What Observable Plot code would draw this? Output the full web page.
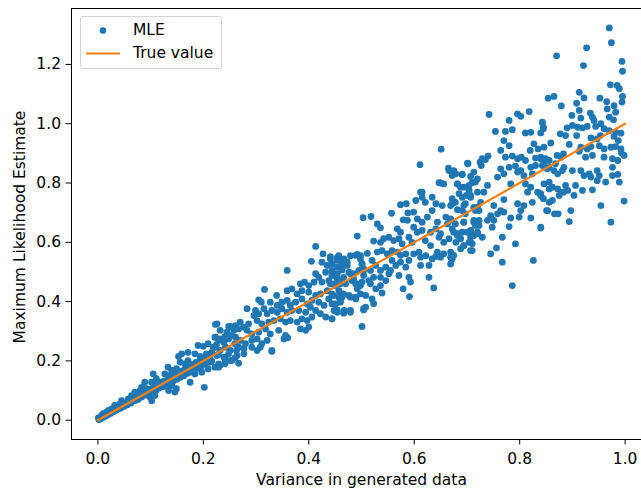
<!DOCTYPE html>
<html><head><meta charset="utf-8">
<script src="https://cdn.jsdelivr.net/npm/d3@7"></script>
<script src="https://cdn.jsdelivr.net/npm/@observablehq/plot@0.6"></script>
<style>
html,body{margin:0;padding:0;background:#fff;overflow:hidden;}
#wrap{position:relative;width:641px;height:490px;overflow:hidden;font-family:"DejaVu Sans",sans-serif;}
#chart svg{max-width:none !important;display:block;}
#legend{position:absolute;left:80px;top:16px;width:142px;height:53px;border:1px solid #d5d5d5;border-radius:3px;background:rgba(255,255,255,0.8);font-size:15.5px;color:#000;box-sizing:border-box;}
#legend .row{position:absolute;left:0;height:20px;line-height:20px;width:140px;}
#legend .lbl{position:absolute;left:52px;white-space:nowrap;}
</style></head>
<body><div id="wrap"><div id="chart"></div>
<div id="legend">
<div class="row" style="top:3px"><svg width="50" height="20" style="position:absolute;left:0"><circle cx="22" cy="10.5" r="3.3" fill="#1f77b4"/></svg><span class="lbl">MLE</span></div>
<div class="row" style="top:26px"><svg width="50" height="20" style="position:absolute;left:0"><line x1="5" x2="39" y1="10.5" y2="10.5" stroke="#ff7f0e" stroke-width="2.2"/></svg><span class="lbl">True value</span></div>
</div></div>
<script>
const xTicks = [0, 0.2, 0.4, 0.6, 0.8, 1.0];
const yTicks = [0, 0.2, 0.4, 0.6, 0.8, 1.0, 1.2];
const trueVariance = [0, 1];
const mlePoints = [
[0.970,1.323],[0.974,1.273],[0.927,1.256],[0.870,1.229],[0.921,1.196],[0.994,1.210],[0.995,1.177],[0.972,1.131],[0.985,1.129],[0.989,1.118],
[0.854,1.086],[0.865,1.092],[0.913,1.106],[0.922,1.087],[0.879,1.060],[0.908,1.069],[0.952,1.086],[0.965,1.074],[0.995,1.092],[0.994,1.073],
[0.966,1.050],[0.979,1.061],[0.982,1.039],[0.913,1.045],[0.934,1.036],[0.938,1.022],[0.899,1.028],[0.970,1.022],[0.978,1.013],[0.916,1.019],
[0.843,1.005],[0.845,0.988],[0.890,0.986],[0.900,0.994],[0.910,0.988],[0.919,0.986],[0.928,0.991],[0.941,1.011],[0.944,0.991],[0.954,1.000],
[0.960,0.983],[0.970,0.977],[0.982,0.971],[0.992,0.968],[0.877,0.966],[0.887,0.960],[0.908,0.960],[0.935,0.952],[0.947,0.949],[0.953,0.960],
[0.979,0.957],[0.987,0.943],[0.859,0.935],[0.894,0.930],[0.916,0.921],[0.928,0.915],[0.935,0.923],[0.951,0.926],[0.960,0.915],[0.973,0.921],
[0.982,0.923],[0.992,0.915],[0.998,0.893],[0.993,0.901],[0.913,0.907],[0.879,0.887],[0.871,0.893],[0.883,0.898],[0.840,0.887],[0.849,0.882],
[0.856,0.876],[0.938,0.893],[0.925,0.887],[0.960,0.887],[0.976,0.882],[0.986,0.876],[0.843,0.859],[0.852,0.848],[0.868,0.865],[0.865,0.842],
[0.872,0.831],[0.884,0.853],[0.881,0.842],[0.900,0.842],[0.916,0.842],[0.922,0.825],[0.932,0.831],[0.935,0.820],[0.947,0.842],[0.951,0.825],
[0.947,0.808],[0.976,0.853],[0.976,0.825],[0.986,0.829],[0.989,0.803],[0.846,0.797],[0.856,0.803],[0.862,0.786],[0.872,0.780],[0.887,0.792],
[0.891,0.775],[0.883,0.769],[0.906,0.792],[0.903,0.758],[0.919,0.775],[0.938,0.777],[0.963,0.803],[0.840,0.764],[0.845,0.747],[0.856,0.735],
[0.862,0.741],[0.875,0.758],[0.879,0.769],[0.851,0.707],[0.866,0.696],[0.873,0.696],[0.897,0.707],[0.894,0.670],[0.954,0.724],[0.998,0.739],
[0.973,0.668],[0.840,0.651],
[0.742,1.031],[0.796,1.033],[0.802,1.025],[0.818,1.041],[0.780,1.011],[0.754,0.974],[0.773,0.974],[0.786,0.980],[0.811,0.969],[0.821,0.971],
[0.843,1.003],[0.845,0.983],[0.840,0.969],[0.770,0.943],[0.780,0.926],[0.827,0.932],[0.835,0.915],[0.764,0.910],[0.820,0.910],[0.846,0.921],
[0.740,0.891],[0.735,0.879],[0.729,0.882],[0.725,0.870],[0.727,0.859],[0.773,0.887],[0.786,0.891],[0.796,0.882],[0.803,0.887],[0.811,0.876],
[0.702,0.865],[0.830,0.884],[0.840,0.882],[0.849,0.876],[0.675,0.842],[0.672,0.825],[0.691,0.829],[0.713,0.837],[0.720,0.814],[0.710,0.801],
[0.764,0.848],[0.758,0.820],[0.770,0.831],[0.780,0.853],[0.792,0.857],[0.796,0.837],[0.802,0.842],[0.808,0.825],[0.821,0.853],[0.830,0.859],
[0.824,0.831],[0.846,0.865],[0.856,0.853],[0.682,0.797],[0.688,0.786],[0.739,0.792],[0.732,0.769],[0.704,0.775],[0.699,0.758],[0.707,0.752],
[0.783,0.797],[0.811,0.797],[0.821,0.786],[0.815,0.769],[0.834,0.769],[0.840,0.758],[0.856,0.780],[0.672,0.747],[0.678,0.735],[0.669,0.724],
[0.694,0.724],[0.726,0.735],[0.720,0.719],[0.716,0.707],[0.770,0.744],[0.751,0.724],[0.764,0.707],[0.758,0.696],[0.770,0.702],[0.796,0.730],
[0.808,0.724],[0.802,0.707],[0.824,0.735],[0.853,0.707],[0.669,0.679],[0.678,0.662],[0.694,0.668],[0.713,0.668],[0.716,0.657],[0.723,0.674],
[0.745,0.690],[0.739,0.674],[0.751,0.674],[0.748,0.651],[0.783,0.682],[0.799,0.685],[0.821,0.682],[0.675,0.634],[0.682,0.623],[0.691,0.634],
[0.707,0.640],[0.713,0.623],[0.720,0.634],[0.729,0.617],[0.780,0.653],[0.840,0.648],[0.704,0.600],[0.694,0.589],[0.710,0.595],[0.767,0.617],
[0.792,0.595],[0.688,0.578],[0.707,0.572],[0.669,0.567],[0.672,0.544],[0.669,0.527],[0.756,0.581],[0.745,0.561],[0.767,0.533],[0.826,0.539],
[0.786,0.454],
[0.666,0.842],[0.679,0.831],[0.691,0.829],[0.707,0.822],[0.650,0.800],[0.656,0.797],[0.682,0.797],[0.694,0.786],[0.704,0.792],[0.716,0.803],
[0.615,0.769],[0.634,0.752],[0.621,0.735],[0.685,0.764],[0.691,0.752],[0.707,0.758],[0.720,0.769],[0.574,0.727],[0.585,0.730],[0.603,0.741],
[0.641,0.730],[0.653,0.724],[0.672,0.730],[0.682,0.710],[0.697,0.730],[0.713,0.718],[0.723,0.707],[0.557,0.698],[0.588,0.699],[0.599,0.702],
[0.503,0.683],[0.518,0.687],[0.530,0.662],[0.536,0.649],[0.579,0.676],[0.587,0.674],[0.606,0.679],[0.615,0.668],[0.625,0.685],[0.634,0.707],
[0.644,0.668],[0.660,0.685],[0.663,0.662],[0.669,0.674],[0.691,0.707],[0.697,0.696],[0.694,0.668],[0.713,0.674],[0.723,0.657],[0.568,0.645],
[0.574,0.634],[0.599,0.651],[0.606,0.634],[0.615,0.640],[0.631,0.634],[0.641,0.645],[0.650,0.629],[0.672,0.645],[0.682,0.629],[0.701,0.634],
[0.707,0.617],[0.720,0.629],[0.492,0.621],[0.523,0.604],[0.536,0.600],[0.542,0.612],[0.552,0.617],[0.561,0.606],[0.571,0.612],[0.577,0.595],
[0.590,0.617],[0.596,0.600],[0.621,0.606],[0.631,0.589],[0.647,0.617],[0.656,0.600],[0.666,0.612],[0.679,0.600],[0.688,0.612],[0.694,0.589],
[0.707,0.600],[0.710,0.572],[0.441,0.544],[0.454,0.548],[0.463,0.541],[0.489,0.556],[0.498,0.544],[0.511,0.563],[0.530,0.567],[0.539,0.572],
[0.549,0.561],[0.558,0.572],[0.568,0.567],[0.574,0.556],[0.584,0.561],[0.599,0.561],[0.609,0.567],[0.612,0.550],[0.622,0.555],[0.644,0.567],
[0.650,0.550],[0.656,0.561],[0.669,0.550],[0.675,0.556],[0.634,0.544],[0.641,0.552],[0.454,0.516],[0.463,0.511],[0.473,0.522],[0.501,0.527],
[0.504,0.511],[0.495,0.505],[0.520,0.539],[0.527,0.522],[0.517,0.505],[0.536,0.505],[0.546,0.516],[0.558,0.539],[0.565,0.522],[0.555,0.505],
[0.574,0.533],[0.584,0.516],[0.590,0.539],[0.612,0.522],[0.628,0.522],[0.444,0.488],[0.454,0.477],[0.466,0.482],[0.479,0.494],[0.485,0.477],
[0.504,0.488],[0.514,0.471],[0.523,0.482],[0.536,0.482],[0.546,0.471],[0.552,0.494],[0.571,0.488],[0.590,0.482],[0.593,0.466],[0.628,0.482],
[0.441,0.460],[0.451,0.454],[0.460,0.460],[0.489,0.460],[0.492,0.443],[0.498,0.454],[0.517,0.460],[0.527,0.443],[0.536,0.454],[0.579,0.443],
[0.637,0.446],[0.447,0.421],[0.457,0.415],[0.466,0.426],[0.479,0.415],[0.489,0.409],[0.508,0.421],[0.520,0.409],[0.539,0.429],[0.591,0.417],
[0.444,0.393],[0.460,0.398],[0.479,0.370],[0.466,0.361],[0.508,0.381],[0.504,0.372],[0.523,0.393],[0.454,0.372],[0.444,0.342],[0.501,0.316],
[0.651,0.914],[0.611,0.862],[0.665,0.850],[0.701,0.867],[0.647,0.801],[0.612,0.769],[0.615,0.752],
[0.413,0.586],[0.427,0.561],[0.441,0.552],[0.457,0.555],[0.467,0.544],[0.479,0.555],[0.492,0.559],[0.498,0.555],[0.405,0.536],[0.425,0.533],
[0.435,0.522],[0.444,0.527],[0.454,0.539],[0.463,0.527],[0.473,0.533],[0.501,0.527],[0.504,0.505],[0.359,0.505],[0.432,0.499],[0.444,0.505],
[0.454,0.494],[0.463,0.507],[0.476,0.499],[0.485,0.494],[0.413,0.494],[0.419,0.482],[0.392,0.466],[0.384,0.460],[0.400,0.454],[0.410,0.466],
[0.425,0.466],[0.438,0.471],[0.448,0.460],[0.460,0.471],[0.470,0.460],[0.482,0.471],[0.492,0.460],[0.501,0.466],[0.316,0.441],[0.339,0.421],
[0.359,0.437],[0.368,0.443],[0.378,0.426],[0.387,0.437],[0.400,0.432],[0.413,0.421],[0.422,0.426],[0.435,0.437],[0.444,0.426],[0.457,0.437],
[0.463,0.415],[0.476,0.421],[0.489,0.415],[0.498,0.426],[0.305,0.406],[0.310,0.398],[0.327,0.398],[0.340,0.387],[0.349,0.398],[0.359,0.404],
[0.365,0.387],[0.375,0.398],[0.387,0.409],[0.397,0.392],[0.406,0.404],[0.419,0.398],[0.429,0.387],[0.438,0.409],[0.451,0.392],[0.460,0.404],
[0.283,0.376],[0.299,0.370],[0.296,0.353],[0.305,0.359],[0.315,0.376],[0.321,0.359],[0.330,0.370],[0.340,0.364],[0.349,0.376],[0.359,0.364],
[0.368,0.370],[0.381,0.370],[0.394,0.364],[0.403,0.381],[0.413,0.370],[0.422,0.359],[0.432,0.348],[0.448,0.370],[0.454,0.364],[0.467,0.370],
[0.479,0.364],[0.504,0.376],[0.270,0.331],[0.261,0.319],[0.277,0.314],[0.286,0.325],[0.302,0.336],[0.311,0.325],[0.324,0.331],[0.334,0.336],
[0.346,0.342],[0.356,0.331],[0.365,0.336],[0.378,0.331],[0.387,0.342],[0.397,0.336],[0.406,0.348],[0.444,0.342],[0.226,0.325],[0.248,0.316],
[0.232,0.303],[0.245,0.297],[0.258,0.303],[0.267,0.308],[0.283,0.303],[0.292,0.291],[0.305,0.297],[0.318,0.308],[0.327,0.291],[0.343,0.303],
[0.356,0.280],[0.353,0.274],[0.384,0.308],[0.394,0.303],[0.400,0.314],[0.223,0.280],[0.229,0.269],[0.239,0.263],[0.248,0.274],[0.261,0.280],
[0.270,0.269],[0.280,0.258],[0.292,0.269],[0.302,0.274],[0.311,0.258],[0.321,0.269],[0.223,0.246],[0.232,0.235],[0.242,0.246],[0.251,0.235],
[0.267,0.246],[0.277,0.241],[0.292,0.246],[0.302,0.235],[0.308,0.246],[0.330,0.235],[0.226,0.218],[0.239,0.213],[0.248,0.224],[0.264,0.218],
[0.277,0.224],[0.229,0.190],[0.242,0.196],[0.254,0.201],[0.267,0.192],[0.229,0.179],[0.360,0.278],[0.356,0.286],[0.330,0.232],
[0.223,0.323],[0.251,0.316],[0.260,0.308],[0.222,0.280],[0.232,0.274],[0.241,0.282],[0.254,0.286],[0.190,0.252],[0.200,0.249],[0.209,0.258],
[0.219,0.246],[0.225,0.255],[0.260,0.258],[0.263,0.235],[0.171,0.229],[0.159,0.224],[0.153,0.215],[0.184,0.224],[0.194,0.215],[0.206,0.224],
[0.216,0.229],[0.228,0.222],[0.241,0.210],[0.251,0.201],[0.260,0.210],[0.156,0.196],[0.165,0.190],[0.171,0.201],[0.190,0.185],[0.203,0.190],
[0.213,0.196],[0.222,0.179],[0.232,0.185],[0.241,0.190],[0.133,0.179],[0.140,0.168],[0.149,0.174],[0.159,0.162],[0.127,0.156],[0.137,0.151],
[0.146,0.156],[0.156,0.145],[0.171,0.168],[0.184,0.156],[0.197,0.162],[0.209,0.173],[0.175,0.128],[0.202,0.111],[0.105,0.156],[0.111,0.140],
[0.102,0.128],[0.111,0.117],[0.121,0.128],[0.130,0.123],[0.140,0.117],[0.149,0.106],[0.134,0.100],[0.146,0.095],[0.089,0.128],[0.083,0.111],
[0.092,0.106],[0.070,0.095],[0.080,0.100],[0.089,0.089],[0.099,0.078],[0.102,0.066],[0.108,0.083],[0.064,0.083],[0.067,0.066],[0.058,0.072],
[0.045,0.066],[0.051,0.057],[0.042,0.055],[0.032,0.050],[0.039,0.042],[0.026,0.038],[0.020,0.033],[0.016,0.027],[0.010,0.022],[0.007,0.016],
[0.001,0.008],[0.002,0.002],
[0.003,0.003],[0.006,0.006],[0.009,0.010],[0.012,0.011],[0.015,0.016],[0.018,0.017],[0.021,0.022],[0.024,0.023],[0.027,0.028],[0.030,0.029],
[0.033,0.035],[0.036,0.034],[0.040,0.041],[0.043,0.040],[0.046,0.048],[0.050,0.047],[0.053,0.056],[0.056,0.052],[0.060,0.062],[0.063,0.058],
[0.066,0.069],[0.070,0.066],[0.073,0.077],[0.076,0.070],[0.080,0.084],[0.083,0.078],[0.086,0.090],[0.090,0.085],[0.093,0.098],[0.096,0.088],
[0.100,0.105],[0.103,0.096],[0.106,0.112],[0.110,0.100],[0.113,0.118],[0.116,0.108],[0.120,0.125],[0.123,0.113],[0.126,0.132],[0.130,0.118],
[0.133,0.140],[0.136,0.126],[0.140,0.146],[0.143,0.132],[0.146,0.152],[0.150,0.138],[0.153,0.160],[0.156,0.145],[0.160,0.166],[0.163,0.150],
[0.166,0.174],[0.170,0.158],[0.173,0.180],[0.176,0.162],[0.180,0.188],[0.183,0.170],[0.186,0.195],[0.190,0.176],[0.193,0.200],[0.196,0.182],
[0.200,0.208],[0.203,0.190],[0.206,0.214],[0.210,0.196],[0.213,0.218],[0.216,0.200]
];
const mle = mlePoints.map(([variance, estimate]) => ({variance, estimate}));
const truth = trueVariance.map(v => ({variance: v, estimate: v}));

const fmt = d3.format(".1f");
const chart = Plot.plot({
  width: 651, height: 490,
  marginLeft: 71, marginRight: 0, marginTop: 8, marginBottom: 51,
  style: {fontFamily: "'DejaVu Sans', sans-serif", fontSize: "15.5px", color: "#000", background: "#fff", maxWidth: "none"},
  x: {domain: [-0.05, 1.05]},
  y: {domain: [-0.0651, 1.3886]},
  marks: [
    Plot.dot(mle, {x: "variance", y: "estimate", r: 3.4, fill: "#1f77b4", stroke: null}),
    Plot.line(truth, {x: "variance", y: "estimate", stroke: "#ff7f0e", strokeWidth: 2.2}),
    Plot.frame({stroke: "#000", strokeWidth: 1}),
    Plot.axisX({ticks: xTicks, tickFormat: fmt, tickSize: 5.5, tickPadding: 8, fontSize: 15.5, label: null, stroke: "#000"}),
    Plot.axisY({ticks: yTicks, tickFormat: fmt, tickSize: 5.5, tickPadding: 5, fontSize: 15.5, label: null, stroke: "#000"}),
    Plot.text(["Variance in generated data"], {frameAnchor: "bottom", lineAnchor: "middle", dy: 41, fontSize: 15.5, fill: "#000"}),
    Plot.text(["Maximum Likelihood Estimate"], {frameAnchor: "left", textAnchor: "middle", lineAnchor: "middle", dx: -51, dy: 3, rotate: -90, fontSize: 15.5, fill: "#000"})
  ]
});
document.getElementById("chart").appendChild(chart);
</script></body></html>
